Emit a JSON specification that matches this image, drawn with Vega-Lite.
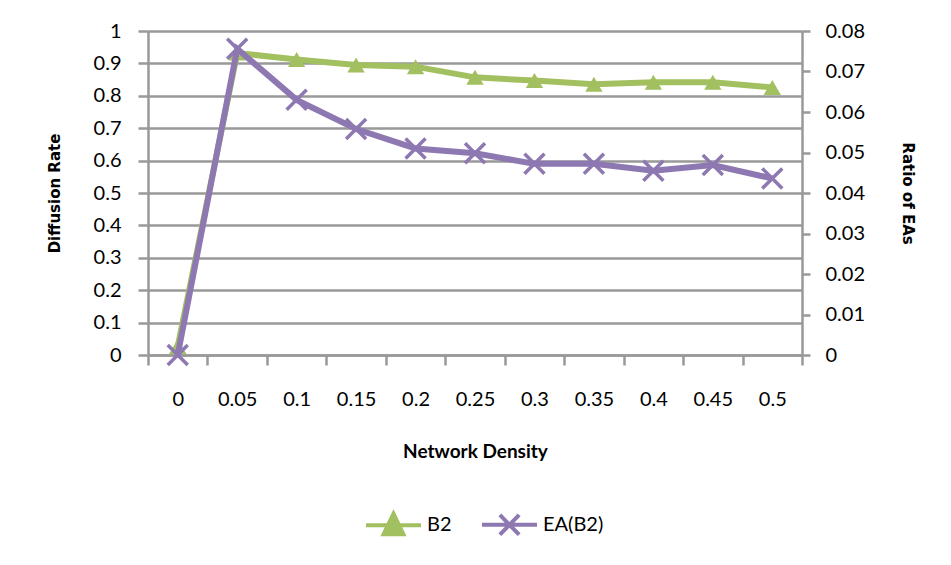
{
  "$schema": "https://vega.github.io/schema/vega-lite/v6.json",
  "width": 654,
  "height": 324,
  "autosize": "none",
  "padding": {"left": 148, "top": 31, "right": 149, "bottom": 210},
  "background": "white",
  "config": {
    "view": {"stroke": null},
    "font": "Lato",
    "legend": {
      "orient": "none",
      "legendX": 216,
      "legendY": 464,
      "direction": "horizontal",
      "labelFont": "Lato",
      "labelFontSize": 20,
      "labelColor": "black",
      "symbolSize": 3025,
      "symbolStrokeWidth": 4,
      "columnPadding": 22,
      "labelOffset": 4
    }
  },
  "data": {
    "values": [
      {"density": 0, "series": "B2", "value": 0.026},
      {"density": 0.05, "series": "B2", "value": 0.932},
      {"density": 0.1, "series": "B2", "value": 0.912},
      {"density": 0.15, "series": "B2", "value": 0.895},
      {"density": 0.2, "series": "B2", "value": 0.89},
      {"density": 0.25, "series": "B2", "value": 0.857},
      {"density": 0.3, "series": "B2", "value": 0.847},
      {"density": 0.35, "series": "B2", "value": 0.836},
      {"density": 0.4, "series": "B2", "value": 0.842},
      {"density": 0.45, "series": "B2", "value": 0.842},
      {"density": 0.5, "series": "B2", "value": 0.826},
      {"density": 0, "series": "EA(B2)", "value": 0},
      {"density": 0.05, "series": "EA(B2)", "value": 0.0756},
      {"density": 0.1, "series": "EA(B2)", "value": 0.063},
      {"density": 0.15, "series": "EA(B2)", "value": 0.0558},
      {"density": 0.2, "series": "EA(B2)", "value": 0.051},
      {"density": 0.25, "series": "EA(B2)", "value": 0.0498},
      {"density": 0.3, "series": "EA(B2)", "value": 0.0472},
      {"density": 0.35, "series": "EA(B2)", "value": 0.0472},
      {"density": 0.4, "series": "EA(B2)", "value": 0.0455},
      {"density": 0.45, "series": "EA(B2)", "value": 0.0469},
      {"density": 0.5, "series": "EA(B2)", "value": 0.0436}
    ]
  },
  "encoding": {
    "x": {
      "field": "density",
      "type": "ordinal",
      "bandPosition": 0.5,
      "scale": {"type": "band", "paddingInner": 0, "paddingOuter": 0},
      "axis": {
        "title": "Network Density",
        "titleFont": "Lato",
        "titleFontWeight": "bold",
        "titleFontSize": 19,
        "titleColor": "black",
        "titlePadding": 33,
        "labelAngle": 0,
        "labelFont": "Lato",
        "labelFontSize": 20,
        "labelColor": "black",
        "labelPadding": 24,
        "tickBand": "extent",
        "tickSize": 10,
        "tickColor": "#999999",
        "tickWidth": 2.5,
        "domainColor": "#999999",
        "domainWidth": 2.5,
        "grid": false
      }
    },
    "color": {
      "field": "series",
      "type": "nominal",
      "scale": {"domain": ["B2", "EA(B2)"], "range": ["#A3C061", "#8E78B2"]},
      "legend": {
        "title": null,
        "encode": {
          "symbols": {
            "update": {
              "shape": {"signal": "datum.value == 'B2' ? 'M-1,0L1,0M0,-0.42L0.36,0.33L-0.36,0.33Z' : 'M-1,0L1,0M-0.35,-0.36L0.35,0.36M-0.35,0.36L0.35,-0.36'"},
              "fill": {"scale": "color", "field": "value"},
              "stroke": {"scale": "color", "field": "value"},
              "strokeWidth": {"value": 4}
            }
          }
        }
      }
    }
  },
  "layer": [
    {
      "transform": [{"filter": "datum.series == 'B2'"}],
      "encoding": {
        "y": {
          "field": "value",
          "type": "quantitative",
          "scale": {"domain": [0, 1]},
          "axis": {
            "title": "Diffusion Rate",
            "titleFont": "DejaVu Sans",
            "titleFontWeight": "bold",
            "titleFontSize": 15,
            "titleColor": "black",
            "titlePadding": 31,
            "values": [0, 0.1, 0.2, 0.3, 0.4, 0.5, 0.6, 0.7, 0.8, 0.9, 1],
            "format": ".1~f",
            "labelFont": "Lato",
            "labelFontSize": 20,
            "labelColor": "black",
            "labelPadding": 17,
            "tickSize": 10,
            "tickColor": "#999999",
            "tickWidth": 2.5,
            "domainColor": "#999999",
            "domainWidth": 2.5,
            "grid": true,
            "gridColor": "#999999",
            "gridWidth": 2.5
          }
        }
      },
      "layer": [
        {"mark": {"type": "line", "strokeWidth": 6}},
        {"mark": {"type": "point", "shape": "triangle-up", "filled": true, "size": 300, "opacity": 1}}
      ]
    },
    {
      "transform": [{"filter": "datum.series == 'EA(B2)'"}],
      "encoding": {
        "y": {
          "field": "value",
          "type": "quantitative",
          "scale": {"domain": [0, 0.08]},
          "axis": {
            "orient": "right",
            "title": "Ratio of EAs",
            "titleFont": "DejaVu Sans",
            "titleFontWeight": "bold",
            "titleFontSize": 15,
            "titleColor": "black",
            "titlePadding": 35,
            "values": [0, 0.01, 0.02, 0.03, 0.04, 0.05, 0.06, 0.07, 0.08],
            "format": ".2~f",
            "labelFont": "Lato",
            "labelFontSize": 20,
            "labelColor": "black",
            "labelPadding": 15,
            "tickSize": 8,
            "tickColor": "#999999",
            "tickWidth": 2.5,
            "domainColor": "#999999",
            "domainWidth": 2.5,
            "grid": false
          }
        }
      },
      "layer": [
        {"mark": {"type": "line", "strokeWidth": 6}},
        {"mark": {"type": "point", "shape": "M-1,-1L1,1M-1,1L1,-1", "filled": false, "strokeWidth": 3.5, "size": 400, "opacity": 1}}
      ]
    }
  ],
  "resolve": {"scale": {"y": "independent"}}
}
